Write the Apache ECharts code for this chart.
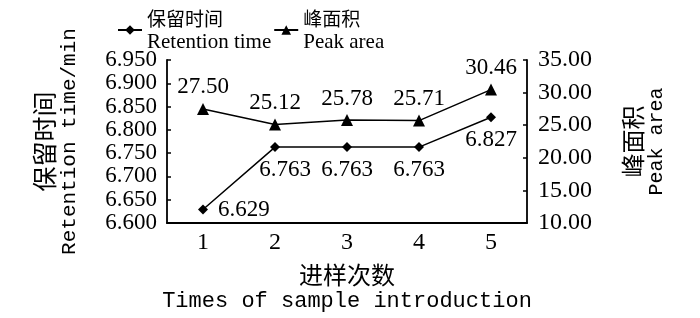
<!DOCTYPE html>
<html>
<head>
<meta charset="utf-8">
<script src="https://cdn.jsdelivr.net/npm/echarts@6/dist/echarts.min.js"></script>
<style>
  html, body { margin: 0; padding: 0; background: #fff; }
  #chart { width: 700px; height: 318px; }
</style>
</head>
<body>
<div id="chart"></div>
<script>
// 进样次数
const times = ['1', '2', '3', '4', '5']
// 保留时间 / min
const retention = [6.629, 6.763, 6.763, 6.763, 6.827]
// 峰面积
const peakArea = [27.50, 25.12, 25.78, 25.71, 30.46]
const leftTicks = { min: 6.6, max: 6.95, step: 0.05 }
const rightTicks = { min: 10, max: 35, step: 5 }

const MONO = 'Liberation Mono'
const SERIF = 'Liberation Serif'
const CJK = 'Noto Sans CJK SC'

const legendText = {
  '保留时间': '{c|保留时间}\n{e|Retention time}',
  '峰面积': '{c|峰面积}\n{e|Peak area}'
}

let chart = echarts.init(document.getElementById('chart'))
let option = {
  animation: false,
  grid: { left: 167, right: 173, top: 60, bottom: 95, containLabel: false },
  legend: {
    left: 112,
    top: 4,
    itemWidth: 24,
    itemHeight: 12,
    itemGap: 2,
    data: ['保留时间', '峰面积'],
    formatter: function (name) { return legendText[name] },
    textStyle: {
      color: '#000',
      rich: {
        c: { fontFamily: CJK, fontSize: 19, lineHeight: 24, color: '#000' },
        e: { fontFamily: SERIF, fontSize: 21, lineHeight: 23, color: '#000' }
      }
    }
  },
  xAxis: {
    type: 'category',
    data: times,
    boundaryGap: true,
    axisLine: { lineStyle: { color: '#000', width: 1.8 } },
    axisTick: { inside: true, length: 3, lineStyle: { color: '#000', width: 1.5 } },
    axisLabel: { color: '#000', fontFamily: SERIF, fontSize: 24, margin: 8 },
    splitLine: { show: false },
    name: '{c|进样次数}\n{e|Times of sample introduction}',
    nameLocation: 'middle',
    nameGap: 38,
    nameTextStyle: {
      rich: {
        c: { fontFamily: CJK, fontSize: 24, lineHeight: 28, color: '#000' },
        e: { fontFamily: MONO, fontSize: 22, lineHeight: 24, color: '#000' }
      }
    }
  },
  yAxis: [{
    type: 'value',
    position: 'left',
    min: leftTicks.min,
    max: leftTicks.max,
    interval: leftTicks.step,
    axisLine: { show: true, lineStyle: { color: '#000', width: 1.8 } },
    axisTick: { show: true, inside: true, length: 4, lineStyle: { color: '#000', width: 1.5 } },
    axisLabel: {
      color: '#000',
      fontFamily: SERIF,
      fontSize: 23,
      margin: 10,
      showMinLabel: true,
      showMaxLabel: true,
      formatter: function (v) { return v.toFixed(3) }
    },
    splitLine: { show: false },
    name: '{c|保留时间}\n{e|Retention time/min}',
    nameLocation: 'middle',
    nameRotate: 90,
    nameGap: 86,
    nameTextStyle: {
      rich: {
        c: { fontFamily: CJK, fontSize: 25, lineHeight: 27, color: '#000' },
        e: { fontFamily: MONO, fontSize: 21, lineHeight: 23, color: '#000' }
      }
    }
  }, {
    type: 'value',
    position: 'right',
    min: rightTicks.min,
    max: rightTicks.max,
    interval: rightTicks.step,
    axisLine: { show: true, lineStyle: { color: '#000', width: 1.8 } },
    axisTick: { show: true, inside: true, length: 4, lineStyle: { color: '#000', width: 1.5 } },
    axisLabel: {
      color: '#000',
      fontFamily: SERIF,
      fontSize: 24,
      margin: 11,
      showMinLabel: true,
      showMaxLabel: true,
      formatter: function (v) { return v.toFixed(2) }
    },
    splitLine: { show: false },
    name: '{c|峰面积}\n{e|Peak area}',
    nameLocation: 'middle',
    nameRotate: 90,
    nameGap: 92,
    nameTextStyle: {
      rich: {
        c: { fontFamily: CJK, fontSize: 24, lineHeight: 27, color: '#000' },
        e: { fontFamily: MONO, fontSize: 20, lineHeight: 22, color: '#000' }
      }
    }
  }],
  series: [{
    name: '保留时间',
    type: 'line',
    yAxisIndex: 0,
    symbol: 'diamond',
    symbolSize: 10,
    itemStyle: { color: '#000' },
    lineStyle: { color: '#000', width: 1.5 },
    data: retention.map(function (v, i) {
      return {
        value: v,
        label: {
          position: i === 0 ? 'right' : 'bottom',
          offset: i === 0 ? [4, 0] : (i === 1 ? [10, 0] : [0, 0])
        }
      }
    }),
    label: {
      show: true,
      distance: 6,
      color: '#000',
      fontFamily: SERIF,
      fontSize: 23,
      formatter: function (p) { return p.value.toFixed(3) }
    }
  }, {
    name: '峰面积',
    type: 'line',
    yAxisIndex: 1,
    symbol: 'triangle',
    symbolSize: 12,
    itemStyle: { color: '#000' },
    lineStyle: { color: '#000', width: 1.5 },
    data: peakArea,
    label: {
      show: true,
      position: 'top',
      distance: 4,
      color: '#000',
      fontFamily: SERIF,
      fontSize: 23,
      formatter: function (p) { return p.value.toFixed(2) }
    }
  }]
}
chart.setOption(option)
</script>
</body>
</html>
